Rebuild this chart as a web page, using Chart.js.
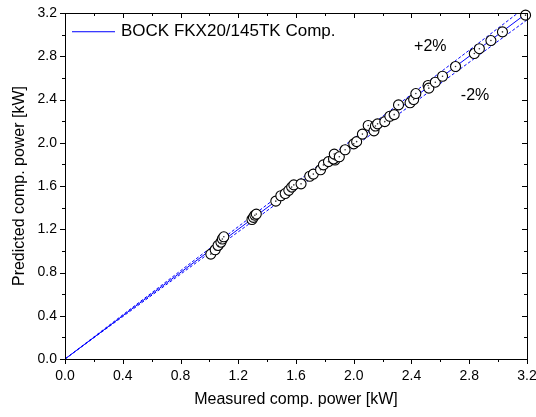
<!DOCTYPE html>
<html>
<head>
<meta charset="utf-8">
<script src="https://cdn.jsdelivr.net/npm/chart.js@4/dist/chart.umd.min.js"></script>
<style>
  html, body { margin: 0; padding: 0; background: #fff; }
  #wrap { width: 536px; height: 417px; }
</style>
</head>
<body>
<div id="wrap"><canvas id="chart" width="536" height="417"></canvas></div>
<script>
// measured vs predicted compressor power [kW]
const measured = [1.01, 1.04, 1.06, 1.08, 1.09, 1.10,
    1.295, 1.305, 1.315, 1.325,
    1.46, 1.495, 1.525, 1.55, 1.57, 1.585, 1.635, 1.695, 1.72, 1.77, 1.79, 1.825, 1.87,
    1.86, 1.865, 1.90, 1.94, 2.00, 2.02, 2.06, 2.10, 2.14, 2.15, 2.165, 2.215, 2.25, 2.28, 2.31, 2.39,
    2.415, 2.43, 2.515, 2.52, 2.565, 2.615, 2.705,
    2.835, 2.87, 2.95, 3.03, 3.19];
const predicted = [0.97, 1.01, 1.05, 1.08, 1.11, 1.13,
    1.29, 1.31, 1.33, 1.34,
    1.46, 1.51, 1.53, 1.56, 1.59, 1.61, 1.62, 1.69, 1.71, 1.75, 1.795, 1.825, 1.84,
    1.85, 1.895, 1.87, 1.935, 1.99, 2.01, 2.08, 2.16, 2.11, 2.155, 2.175, 2.195, 2.245, 2.26, 2.35, 2.37,
    2.40, 2.455, 2.53, 2.505, 2.56, 2.615, 2.705,
    2.825, 2.87, 2.945, 3.025, 3.18];

const refX = [0, 3.2];
const bandPct = 2;
const legendLabel = 'BOCK FKX20/145TK Comp.';
const xTitle = 'Measured comp. power [kW]';
const yTitle = 'Predicted comp. power [kW]';

const points = measured.map((m, i) => ({ x: m, y: predicted[i] }));
const refLine = f => refX.map(x => ({ x: x, y: x * f }));

const FONT = 'Arial, "Liberation Sans", sans-serif';

const framePlugin = {
    id: 'frame',
    afterDraw(chart) {
        const { ctx, chartArea: a, scales } = chart;
        ctx.save();
        ctx.strokeStyle = '#000';
        ctx.lineWidth = 1;
        ctx.strokeRect(a.left + 0.5, a.top + 0.5, a.right - a.left, a.bottom - a.top);
        ctx.beginPath();
        scales.x.ticks.forEach((t, i) => {
            const px = Math.round(scales.x.getPixelForValue(t.value)) + 0.5;
            const len = i % 2 === 0 ? 5 : 3;
            ctx.moveTo(px, a.bottom); ctx.lineTo(px, a.bottom + len);
            ctx.moveTo(px, a.top); ctx.lineTo(px, a.top + len);
        });
        scales.y.ticks.forEach((t, i) => {
            const py = Math.round(scales.y.getPixelForValue(t.value)) + 0.5;
            const len = i % 2 === 0 ? 5 : 3;
            ctx.moveTo(a.left - len, py); ctx.lineTo(a.left, py);
            ctx.moveTo(a.right - len, py); ctx.lineTo(a.right, py);
        });
        ctx.stroke();

        // legend inside the plot
        const ly = Math.round(a.top + 18);
        ctx.fillStyle = '#3b3bff';
        ctx.fillRect(a.left + 7, ly, 43, 1.3);
        ctx.fillStyle = '#000';
        ctx.font = '17px ' + FONT;
        ctx.textBaseline = 'middle';
        ctx.textAlign = 'left';
        ctx.fillText(legendLabel, a.left + 56, ly + 0.5);

        // band labels
        ctx.font = '16px ' + FONT;
        ctx.textAlign = 'center';
        ctx.fillText('+' + bandPct + '%', scales.x.getPixelForValue(2.53), scales.y.getPixelForValue(2.89));
        ctx.fillText('-' + bandPct + '%', scales.x.getPixelForValue(2.84), scales.y.getPixelForValue(2.44));
        ctx.restore();
    }
};

new Chart(document.getElementById('chart'), {
    type: 'scatter',
    data: {
        datasets: [
            {
                label: 'dot',
                data: points,
                pointRadius: 0.8,
                pointBackgroundColor: '#333',
                pointBorderWidth: 0,
                clip: false,
                order: 0
            },
            {
                label: legendLabel,
                data: points,
                pointRadius: 5,
                pointBackgroundColor: '#fff',
                pointBorderColor: '#000',
                pointBorderWidth: 1.1,
                clip: false,
                order: 1
            },
            {
                label: 'y=x',
                data: refLine(1),
                showLine: true,
                borderColor: '#0000ff',
                borderWidth: 1,
                pointRadius: 0,
                order: 2
            },
            {
                label: '+2%',
                data: refLine(1 + bandPct / 100),
                showLine: true,
                borderColor: '#0000ff',
                borderWidth: 1,
                borderDash: [3, 2],
                pointRadius: 0,
                order: 3
            },
            {
                label: '-2%',
                data: refLine(1 - bandPct / 100),
                showLine: true,
                borderColor: '#0000ff',
                borderWidth: 1,
                borderDash: [3, 2],
                pointRadius: 0,
                order: 4
            }
        ]
    },
    plugins: [framePlugin],
    options: {
        responsive: false,
        animation: false,
        layout: { padding: { top: 13, right: 9, left: 0, bottom: 0 } },
        plugins: { legend: { display: false }, tooltip: { enabled: false } },
        scales: {
            x: {
                min: 0, max: 3.2,
                afterFit(s) { s.height = 58; s.paddingLeft = 0; s.paddingRight = 0; },
                ticks: {
                    stepSize: 0.2,
                    autoSkip: false,
                    maxRotation: 0,
                    padding: 9,
                    color: '#000',
                    font: { family: FONT, size: 14 },
                    callback: (v, i) => i % 2 === 0 ? v.toFixed(1) : ''
                },
                grid: { display: false, drawTicks: false },
                border: { display: false },
                title: {
                    display: true, text: xTitle, color: '#000',
                    font: { family: FONT, size: 16 },
                    padding: { top: 0, bottom: 8 }
                }
            },
            y: {
                min: 0, max: 3.2,
                afterFit(s) { s.width = 65; s.paddingTop = 0; s.paddingBottom = 0; },
                ticks: {
                    stepSize: 0.2,
                    autoSkip: false,
                    padding: 8,
                    color: '#000',
                    font: { family: FONT, size: 14 },
                    callback: (v, i) => i % 2 === 0 ? v.toFixed(1) : ''
                },
                grid: { display: false, drawTicks: false },
                border: { display: false },
                title: {
                    display: true, text: yTitle, color: '#000',
                    font: { family: FONT, size: 16 },
                    padding: { top: 10, bottom: 0 }
                }
            }
        }
    }
});
</script>
</body>
</html>
